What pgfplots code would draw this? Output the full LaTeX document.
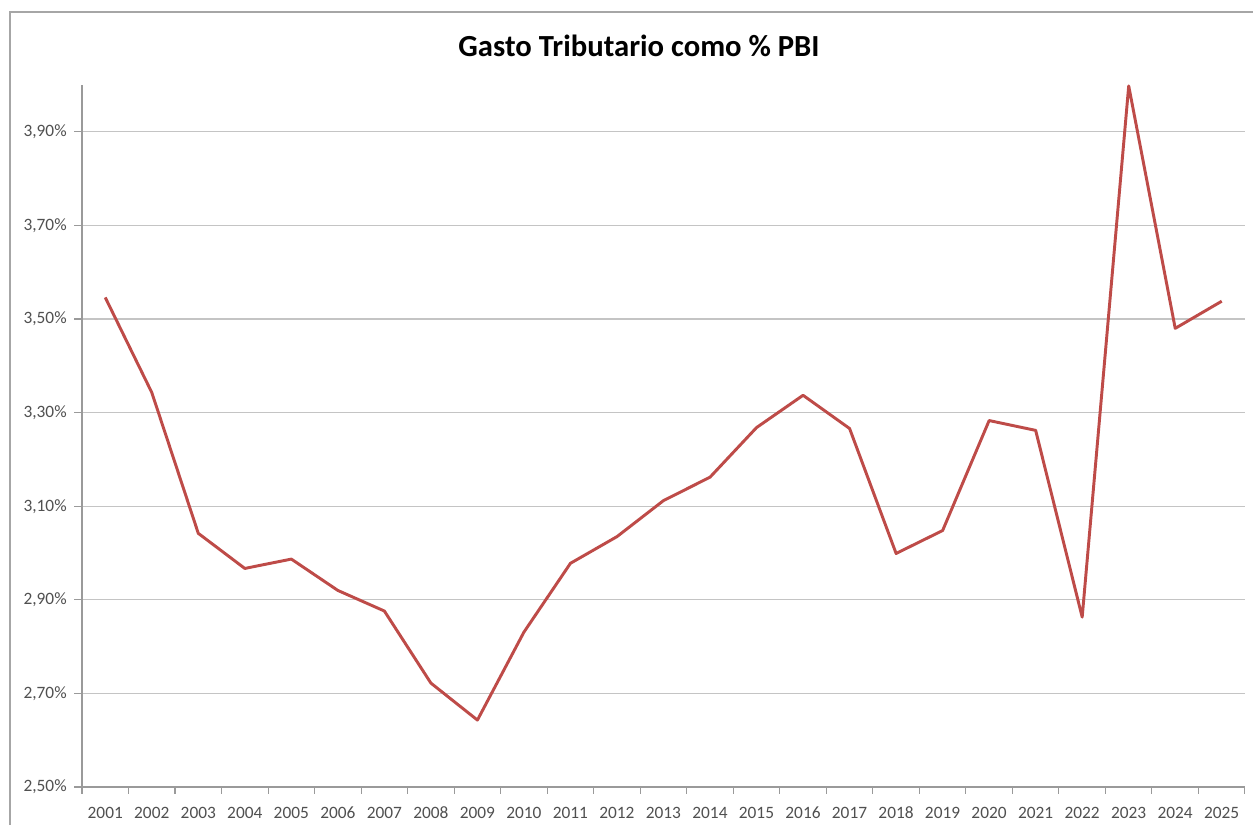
\documentclass[border=0pt]{standalone}
\usepackage{pgfplots}
\pgfplotsset{compat=1.18}
\usepackage{fontspec}
\setmainfont{Carlito}
\definecolor{linered}{HTML}{BE4B48}
\definecolor{gridgray}{HTML}{C4C4C4}
\definecolor{axisgray}{HTML}{9A9A9A}
\definecolor{labelgray}{HTML}{505050}
\definecolor{framegray}{HTML}{A6A6A6}

\begin{document}
\begin{tikzpicture}
% canvas: 1px = 0.75pt
\useasboundingbox (0,0) rectangle (939.75pt,618.75pt);
\fill[white] (0,0) rectangle (939.75pt,618.75pt);
% chart frame (left and top edges)
\draw[framegray, line width=1.6pt] (7.5pt,0) -- (7.5pt,609.75pt) -- (939.75pt,609.75pt);

\node[font=\bfseries\fontsize{23}{26}\selectfont, text=black] at (479.25pt,584.25pt) {Gasto Tributario como \% PBI};

\begin{axis}[
  at={(61.5pt,28.5pt)}, anchor=south west,
  scale only axis,
  width=872.25pt, height=526.5pt,
  xmin=2000.5, xmax=2025.5,
  ymin=2.5, ymax=4.0,
  axis lines*=left,
  axis line style={axisgray, line width=1pt},
  xtick={2001,...,2025},
  xticklabels={2001,2002,2003,2004,2005,2006,2007,2008,2009,2010,2011,2012,2013,2014,2015,2016,2017,2018,2019,2020,2021,2022,2023,2024,2025},
  minor xtick={2000.5,2001.5,...,2025.5},
  ytick={2.5,2.7,2.9,3.1,3.3,3.5,3.7,3.9},
  yticklabels={{2,50\%},{2,70\%},{2,90\%},{3,10\%},{3,30\%},{3,50\%},{3,70\%},{3,90\%}},
  ymajorgrids,
  grid style={gridgray, line width=1pt},
  tick style={axisgray, line width=0.8pt},
  major x tick style={draw=none},
  minor tick length=5pt,
  major tick length=6pt,
  tick align=outside,
  ticklabel style={font=\fontsize{13}{15}\selectfont, text=labelgray},
  xticklabel style={yshift=-5pt, text height=9.2pt, text depth=0pt},
  yticklabel style={xshift=-2pt},
  clip=false,
]
\addplot[linered, line width=2.2pt, line join=round] coordinates {
  (2001,3.546) (2002,3.343) (2003,3.042) (2004,2.967) (2005,2.987)
  (2006,2.920) (2007,2.876) (2008,2.722) (2009,2.643) (2010,2.831)
  (2011,2.978) (2012,3.035) (2013,3.112) (2014,3.162) (2015,3.268)
  (2016,3.337) (2017,3.266) (2018,2.999) (2019,3.048) (2020,3.283)
  (2021,3.262) (2022,2.863) (2023,3.998) (2024,3.480) (2025,3.538)
};
\end{axis}
\end{tikzpicture}
\end{document}
